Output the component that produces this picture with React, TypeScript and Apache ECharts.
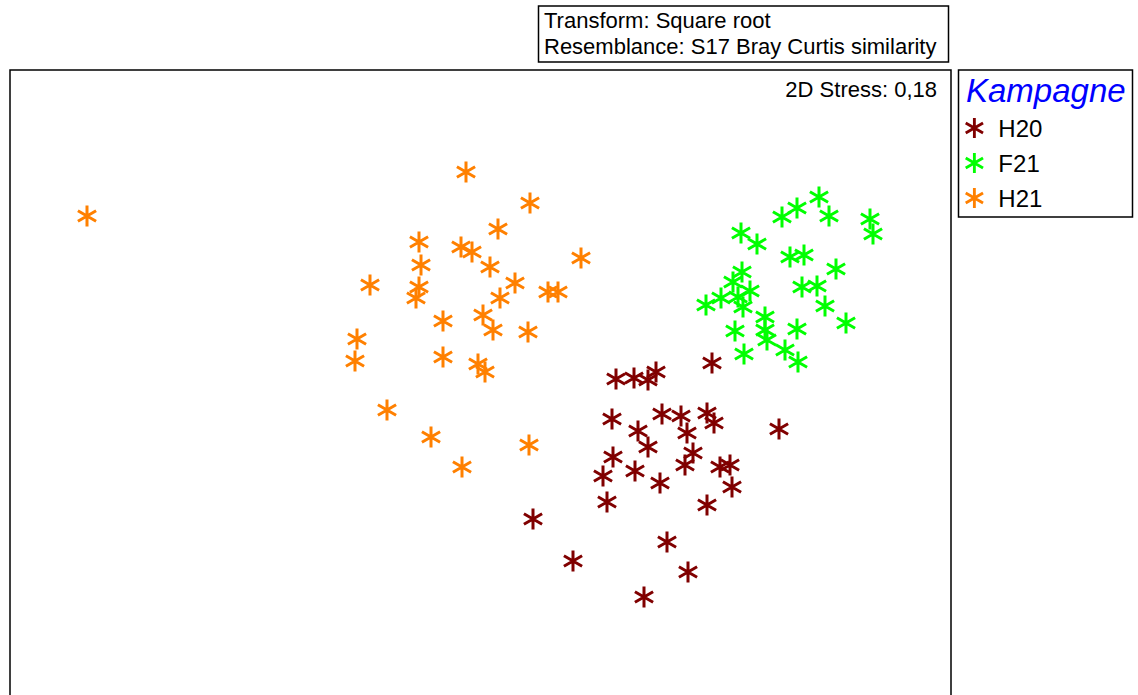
import React, { useEffect, useRef } from "react";
import * as echarts from "echarts";

// nMDS coordinates (arbitrary MDS units)
const seriesNames = ["H20", "F21", "H21"];

const h20: [number, number][] = [
  [2.32, 0.17], [1.36, 0.01], [1.54, 0.02], [1.68, 0.0], [1.76, 0.08],
  [1.32, -0.39], [1.82, -0.34], [2.01, -0.36], [2.27, -0.33], [2.34, -0.43],
  [1.58, -0.51], [2.07, -0.53], [1.68, -0.67], [2.99, -0.49], [2.13, -0.73],
  [1.33, -0.77], [2.05, -0.85], [1.55, -0.91], [2.4, -0.87], [2.5, -0.85],
  [1.23, -0.96], [1.8, -1.03], [2.52, -1.07], [1.27, -1.22], [2.27, -1.25],
  [0.53, -1.39], [1.87, -1.62], [0.93, -1.81], [2.08, -1.92], [1.64, -2.17],
];

const f21: [number, number][] = [
  [3.39, 1.83], [3.17, 1.72], [3.02, 1.63], [3.49, 1.64], [3.9, 1.61],
  [3.93, 1.46], [2.61, 1.47], [2.77, 1.36], [3.1, 1.23], [3.24, 1.25],
  [3.56, 1.11], [2.62, 1.08], [2.53, 0.98], [3.22, 0.93], [3.37, 0.94],
  [3.45, 0.74], [3.66, 0.57], [2.7, 0.89], [2.26, 0.75], [2.41, 0.82],
  [2.58, 0.83], [2.63, 0.73], [2.85, 0.63], [2.85, 0.5], [2.87, 0.4],
  [2.55, 0.49], [2.64, 0.26], [3.05, 0.3], [3.17, 0.51], [3.18, 0.18],
];

const h21: [number, number][] = [
  [-0.14, 2.08], [0.5, 1.77], [0.18, 1.51], [-0.61, 1.38], [-0.19, 1.33],
  [-0.08, 1.28], [-0.59, 1.15], [1.01, 1.22], [0.1, 1.13], [-1.1, 0.95],
  [-0.61, 0.93], [-0.64, 0.82], [0.35, 0.97], [0.68, 0.88], [0.78, 0.88],
  [0.2, 0.82], [-0.37, 0.59], [0.03, 0.65], [0.13, 0.5], [0.48, 0.48],
  [-1.23, 0.41], [-1.25, 0.19], [-0.37, 0.23], [-0.02, 0.16], [0.05, 0.08],
  [-3.93, 1.64], [-0.93, -0.3], [-0.49, -0.57], [-0.18, -0.87], [0.49, -0.65],
];

const seriesColors = ["#800000", "#00ff00", "#ff8000"];
const titleLines = ["Transform: Square root", "Resemblance: S17 Bray Curtis similarity"];
const stressLabel = "2D Stress: 0,18";
const legendTitle = "Kampagne";

const FONT = "Arial, 'Liberation Sans', sans-serif";

function asterisk(L: number, w: number) {
  const angles = [90, 30, 150];
  const W = L * Math.cos(Math.PI / 6) + w * Math.sin(Math.PI / 6);
  const off = Math.max(W, L) + 1;
  let d = "";
  for (const a of angles) {
    const t = (a * Math.PI) / 180;
    const dx = Math.cos(t), dy = Math.sin(t);
    const nx = -dy, ny = dx;
    const pts = [
      [L * dx + w * nx, L * dy + w * ny],
      [-L * dx + w * nx, -L * dy + w * ny],
      [-L * dx - w * nx, -L * dy - w * ny],
      [L * dx - w * nx, L * dy - w * ny],
    ].map(([x, y]) => `${(x + off).toFixed(3)} ${(y + off).toFixed(3)}`);
    d += `M${pts[0]}L${pts[1]}L${pts[2]}L${pts[3]}Z`;
  }
  return { path: "path://" + d, size: [2 * W, 2 * L] };
}

export default function App() {
  const ref = useRef<HTMLDivElement>(null);
  useEffect(() => {
    if (!ref.current) return;
    const chart = echarts.init(ref.current, undefined, { renderer: "svg" });
    const star = asterisk(10.5, 1.5);
    const datasets = [h20, f21, h21];
    chart.setOption({
      animation: false,
      backgroundColor: "#ffffff",
      grid: {
        show: true,
        left: 10,
        top: 70,
        width: 941,
        height: 660,
        borderColor: "#000",
        borderWidth: 1.5,
        backgroundColor: "transparent",
      },
      xAxis: { type: "value", min: -4.7, max: 4.71, show: false },
      yAxis: { type: "value", min: -3.5, max: 3.1, show: false },
      legend: {
        data: seriesNames,
        orient: "vertical",
        left: 965,
        top: 116,
        padding: 0,
        itemWidth: 20,
        itemHeight: 20,
        itemGap: 11,
        icon: star.path,
        textStyle: {
          fontFamily: FONT,
          fontSize: 24,
          lineHeight: 24,
          color: "#000",
          padding: [0, 0, 0, 9],
        },
      },
      series: seriesNames.map((name, i) => ({
        name,
        type: "scatter",
        data: datasets[i],
        symbol: star.path,
        symbolSize: star.size,
        itemStyle: { color: seriesColors[i], opacity: 1 },
        emphasis: { disabled: true },
      })),
      graphic: [
        {
          type: "rect",
          shape: { x: 538.5, y: 6, width: 410, height: 56 },
          style: { fill: "#fff", stroke: "#000", lineWidth: 1.5 },
        },
        {
          type: "text",
          x: 544,
          y: 20,
          style: { text: titleLines[0], font: `22px ${FONT}`, fill: "#000", verticalAlign: "middle" },
        },
        {
          type: "text",
          x: 544,
          y: 46,
          style: { text: titleLines[1], font: `22px ${FONT}`, fill: "#000", verticalAlign: "middle" },
        },
        {
          type: "text",
          x: 937,
          y: 89,
          style: { text: stressLabel, font: `22px ${FONT}`, fill: "#000", align: "right", verticalAlign: "middle" },
        },
        {
          type: "rect",
          shape: { x: 958.5, y: 70, width: 174, height: 147 },
          style: { fill: "none", stroke: "#000", lineWidth: 1.5 },
        },
        {
          type: "text",
          x: 966,
          y: 90,
          style: { text: legendTitle, font: `italic 33px ${FONT}`, fill: "#0000ff", verticalAlign: "middle" },
        },
      ],
    });
    return () => chart.dispose();
  }, []);
  return (
    <div style={{ position: "fixed", left: 0, top: 0, width: 1138, height: 695, overflow: "hidden", background: "#fff" }}>
      <div ref={ref} style={{ width: 1138, height: 760 }} />
    </div>
  );
}
